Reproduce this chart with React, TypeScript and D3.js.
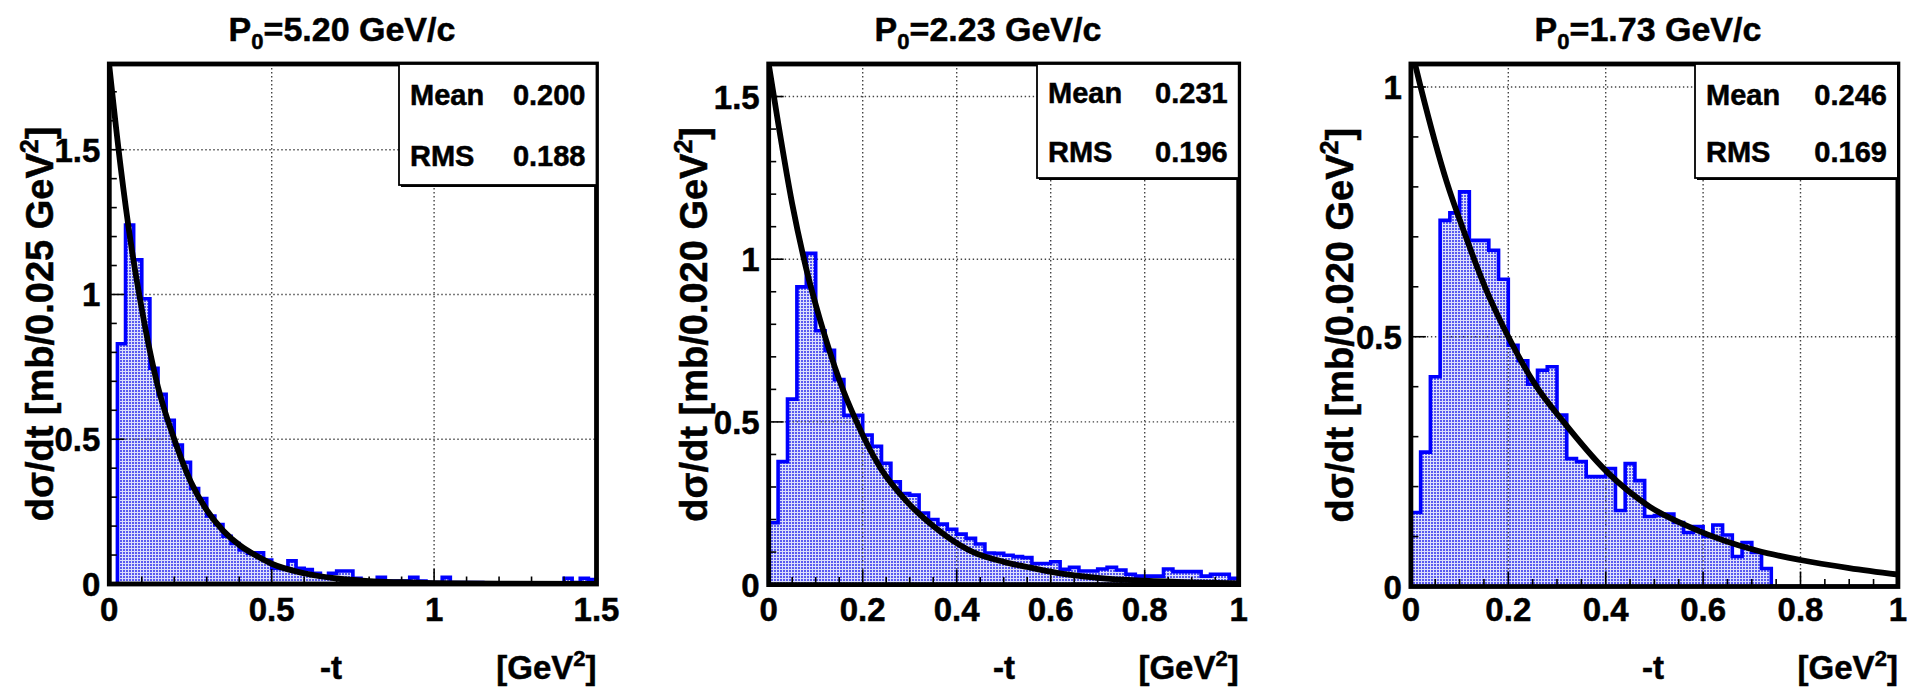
import React from "react";
import * as d3 from "d3";

// ---------------- DATA ----------------
const momenta = ["5.20", "2.23", "1.73"];
const binUnits = ["0.025", "0.020", "0.020"];
const means = ["0.200", "0.231", "0.246"];
const rmsValues = ["0.188", "0.196", "0.169"];
const binWidths = [0.025, 0.02, 0.02];

const hist1 = [
  0.0, 0.83, 1.24, 1.12, 0.985, 0.745, 0.655, 0.565, 0.48, 0.42,
  0.33, 0.295, 0.235, 0.205, 0.165, 0.14, 0.118, 0.106, 0.108, 0.083,
  0.055, 0.054, 0.08, 0.054, 0.05, 0.037, 0.025, 0.037, 0.045, 0.045,
  0.02, 0.0, 0.0, 0.023, 0.01, 0.01, 0.01, 0.023, 0.01, 0.005,
  0.005, 0.023, 0.005, 0.005, 0.005, 0.005, 0.003, 0.003, 0.003, 0.003,
  0.003, 0.003, 0.003, 0.003, 0.0, 0.0, 0.02, 0.005, 0.02, 0.015,
];
const hist2 = [
  0.19, 0.378, 0.57, 0.915, 1.018, 0.78, 0.72, 0.63, 0.52, 0.52,
  0.46, 0.425, 0.373, 0.316, 0.28, 0.275, 0.22, 0.2, 0.186, 0.17,
  0.155, 0.142, 0.125, 0.097, 0.096, 0.09, 0.086, 0.083, 0.065, 0.065,
  0.07, 0.047, 0.053, 0.042, 0.042, 0.048, 0.053, 0.045, 0.032, 0.026,
  0.026, 0.026, 0.048, 0.04, 0.04, 0.04, 0.026, 0.032, 0.032, 0.019,
];
const hist3 = [
  0.148, 0.269, 0.42, 0.733, 0.748, 0.79, 0.693, 0.693, 0.673, 0.615,
  0.483, 0.452, 0.405, 0.433, 0.44, 0.343, 0.256, 0.25, 0.22, 0.22,
  0.236, 0.152, 0.246, 0.212, 0.14, 0.142, 0.145, 0.128, 0.108, 0.12,
  0.1, 0.123, 0.103, 0.06, 0.088, 0.068, 0.036, 0, 0, 0,
  0, 0, 0, 0, 0, 0, 0, 0, 0, 0,
];

const curve1T = [0, 0.035, 0.066, 0.1, 0.15, 0.2, 0.25, 0.3, 0.35, 0.4, 0.45, 0.5, 0.6, 0.7, 0.8, 0.9, 1.0, 1.2, 1.5];
const curve1Y = [1.79, 1.44, 1.18, 0.95, 0.68, 0.5, 0.355, 0.255, 0.185, 0.135, 0.099, 0.07, 0.037, 0.019, 0.01, 0.006, 0.003, 0.001, 0.0002];
const curve2T = [0, 0.02, 0.05, 0.08, 0.11, 0.15, 0.187, 0.237, 0.294, 0.35, 0.38, 0.435, 0.5, 0.55, 0.613, 0.7, 0.8, 0.9, 1.0];
const curve2Y = [1.6, 1.42, 1.17, 0.97, 0.81, 0.63, 0.5, 0.36, 0.255, 0.18, 0.147, 0.1, 0.07, 0.054, 0.036, 0.021, 0.012, 0.007, 0.004];
const curve3T = [0, 0.02, 0.0735, 0.111, 0.152, 0.2, 0.258, 0.313, 0.4, 0.49, 0.58, 0.71, 0.8, 0.9, 1.0];
const curve3Y = [1.08, 1.0, 0.81, 0.705, 0.6, 0.5, 0.4, 0.33, 0.232, 0.16, 0.116, 0.072, 0.053, 0.037, 0.024];

const xTicks1 = [0, 0.5, 1, 1.5];
const xTicks23 = [0, 0.2, 0.4, 0.6, 0.8, 1];
const yTicks12 = [0, 0.5, 1, 1.5];
const yTicks3 = [0, 0.5, 1];
const xMinorStep = [0.1, 0.05, 0.05];
const yMinorStep = 0.1;

// ---------------- LAYOUT ----------------
const FONT = "'Liberation Sans', Arial, Helvetica, sans-serif";

const pads = [
  {
    hist: hist1, cT: curve1T, cY: curve1Y, xTicks: xTicks1, yTicks: yTicks12,
    x0: 109.3, x1: 596.5, y0: 584, yTop: 64, xMax: 1.5, yMax: 1.796,
    titleX: 342, yTitleX: 40, tX: 331,
    box: { left: 399, bottom: 185 }, meanY: 105, rmsY: 166,
  },
  {
    hist: hist2, cT: curve2T, cY: curve2Y, xTicks: xTicks23, yTicks: yTicks12,
    x0: 768.7, x1: 1238.7, y0: 584.6, yTop: 64, xMax: 1.0, yMax: 1.6,
    titleX: 988, yTitleX: 694, tX: 1004,
    box: { left: 1037, bottom: 178 }, meanY: 103, rmsY: 162,
  },
  {
    hist: hist3, cT: curve3T, cY: curve3Y, xTicks: xTicks23, yTicks: yTicks3,
    x0: 1410.9, x1: 1897.9, y0: 586.5, yTop: 64, xMax: 1.0, yMax: 1.046,
    titleX: 1648, yTitleX: 1340, tX: 1653,
    box: { left: 1695, bottom: 178 }, meanY: 105, rmsY: 162,
  },
];

function fmt(v: number) {
  return d3.format("~g")(+v.toFixed(3));
}

const textStyle = { stroke: "#000", strokeWidth: 0.5 } as const;

function Panel({ p, i }: { p: any; i: number }) {
  const x = d3.scaleLinear().domain([0, p.xMax]).range([p.x0, p.x1]);
  const y = d3.scaleLinear().domain([0, p.yMax]).range([p.y0, p.yTop]);
  const bw = binWidths[i];
  const hist: number[] = p.hist;

  const pts: [number, number][] = [[x(0), y(0)]];
  hist.forEach((v, k) => {
    pts.push([x(k * bw), y(v)]);
    pts.push([x((k + 1) * bw), y(v)]);
  });
  pts.push([x(hist.length * bw), y(0)]);
  const outline = d3.line()(pts) as string;
  const fillPath = outline + "Z";

  const curveData = (p.cT as number[]).map((t, k) => [t, p.cY[k]] as [number, number]);
  const curvePath = d3
    .line<[number, number]>()
    .x((d) => x(d[0]))
    .y((d) => y(d[1]))
    .curve(d3.curveMonotoneX)(curveData) as string;

  const xMinor = d3.range(0, p.xMax + 1e-9, xMinorStep[i]);
  const yMinor = d3.range(0, p.yMax + 1e-9, yMinorStep);
  const isMajor = (v: number, ticks: number[]) => ticks.some((t) => Math.abs(t - v) < 1e-6);

  const clipId = `clip${i}`;
  const fs = 33;

  return (
    <g>
      <defs>
        <clipPath id={clipId}>
          <rect x={p.x0} y={p.yTop} width={p.x1 - p.x0} height={p.y0 - p.yTop} />
        </clipPath>
      </defs>

      <path d={fillPath} fill="url(#dots)" stroke="none" />

      {p.xTicks.filter((t: number) => t > 0 && t < p.xMax).map((t: number) => (
        <line key={"gx" + t} x1={x(t)} x2={x(t)} y1={p.yTop} y2={p.y0}
          stroke="#444" strokeWidth={1.4} strokeDasharray="1.4,2.6" />
      ))}
      {p.yTicks.filter((t: number) => t > 0).map((t: number) => (
        <line key={"gy" + t} x1={p.x0} x2={p.x1} y1={y(t)} y2={y(t)}
          stroke="#444" strokeWidth={1.4} strokeDasharray="1.4,2.6" />
      ))}

      <path d={outline} fill="none" stroke="#0000ff" strokeWidth={3.6} strokeLinejoin="miter" />

      <g clipPath={`url(#${clipId})`}>
        <path d={curvePath} fill="none" stroke="#000" strokeWidth={5.8} />
      </g>

      {xMinor.map((t) => {
        const L = isMajor(t, p.xTicks) ? 15 : 7.5;
        return <line key={"tx" + t} x1={x(t)} x2={x(t)} y1={p.y0} y2={p.y0 - L} stroke="#000" strokeWidth={1.6} />;
      })}
      {yMinor.map((t) => {
        const L = isMajor(t, p.yTicks) ? 15 : 7.5;
        return <line key={"ty" + t} x1={p.x0} x2={p.x0 + L} y1={y(t)} y2={y(t)} stroke="#000" strokeWidth={1.6} />;
      })}

      <rect x={p.x0} y={p.yTop} width={p.x1 - p.x0} height={p.y0 - p.yTop}
        fill="none" stroke="#000" strokeWidth={4.8} />

      <rect x={p.box.left + 2} y={p.yTop + 2} width={p.x1 - p.box.left - 2} height={p.box.bottom - p.yTop}
        fill="#000" />
      <rect x={p.box.left} y={p.yTop} width={p.x1 - p.box.left} height={p.box.bottom - p.yTop}
        fill="#fff" stroke="#000" strokeWidth={1.8} />
      <g fontFamily={FONT} fontWeight="bold" fontSize={29} {...textStyle}>
        <text x={p.box.left + 11} y={p.meanY}>Mean</text>
        <text x={p.x1 - 11} y={p.meanY} textAnchor="end">{means[i]}</text>
        <text x={p.box.left + 11} y={p.rmsY}>RMS</text>
        <text x={p.x1 - 11} y={p.rmsY} textAnchor="end">{rmsValues[i]}</text>
      </g>

      <g fontFamily={FONT} fontWeight="bold" fontSize={fs} {...textStyle}>
        {p.xTicks.map((t: number) => (
          <text key={"lx" + t} x={x(t)} y={621} textAnchor="middle">{fmt(t)}</text>
        ))}
        {p.yTicks.map((t: number) => (
          <text key={"ly" + t} x={p.x0 - 9} y={y(t) + 12} textAnchor="end">{fmt(t)}</text>
        ))}
      </g>

      <text x={p.titleX} y={41} textAnchor="middle" fontFamily={FONT} fontWeight="bold" fontSize={34} {...textStyle}>
        P<tspan fontSize={22} dy={8}>0</tspan><tspan dy={-8}>={momenta[i]} GeV/c</tspan>
      </text>

      <text x={p.tX} y={679} textAnchor="middle" fontFamily={FONT} fontWeight="bold" fontSize={fs} {...textStyle}>-t</text>
      <text x={p.x1} y={679} textAnchor="end" fontFamily={FONT} fontWeight="bold" fontSize={fs} {...textStyle}>
        [GeV<tspan fontSize={22} dy={-13}>2</tspan><tspan dy={13}>]</tspan>
      </text>
      <text
        transform={`translate(${p.yTitleX + 13},${(p.y0 + p.yTop) / 2}) rotate(-90)`}
        textAnchor="middle" fontFamily={FONT} fontWeight="bold" fontSize={38} {...textStyle}
      >
        dσ/dt [mb/{binUnits[i]} GeV<tspan fontSize={25} dy={-15}>2</tspan><tspan dy={15}>]</tspan>
      </text>
    </g>
  );
}

export default function App() {
  return (
    <svg width={1910} height={687} style={{ position: "absolute", left: 0, top: 0, background: "#fff" }}>
      <defs>
        <pattern id="dots" width={3} height={3} patternUnits="userSpaceOnUse">
          <rect width={3} height={3} fill="#dcdffb" />
          <rect width={2} height={2} fill="#5a5af0" />
        </pattern>
      </defs>
      <rect width={1910} height={687} fill="#fff" />
      {pads.map((p, i) => (
        <Panel key={i} p={p} i={i} />
      ))}
    </svg>
  );
}
